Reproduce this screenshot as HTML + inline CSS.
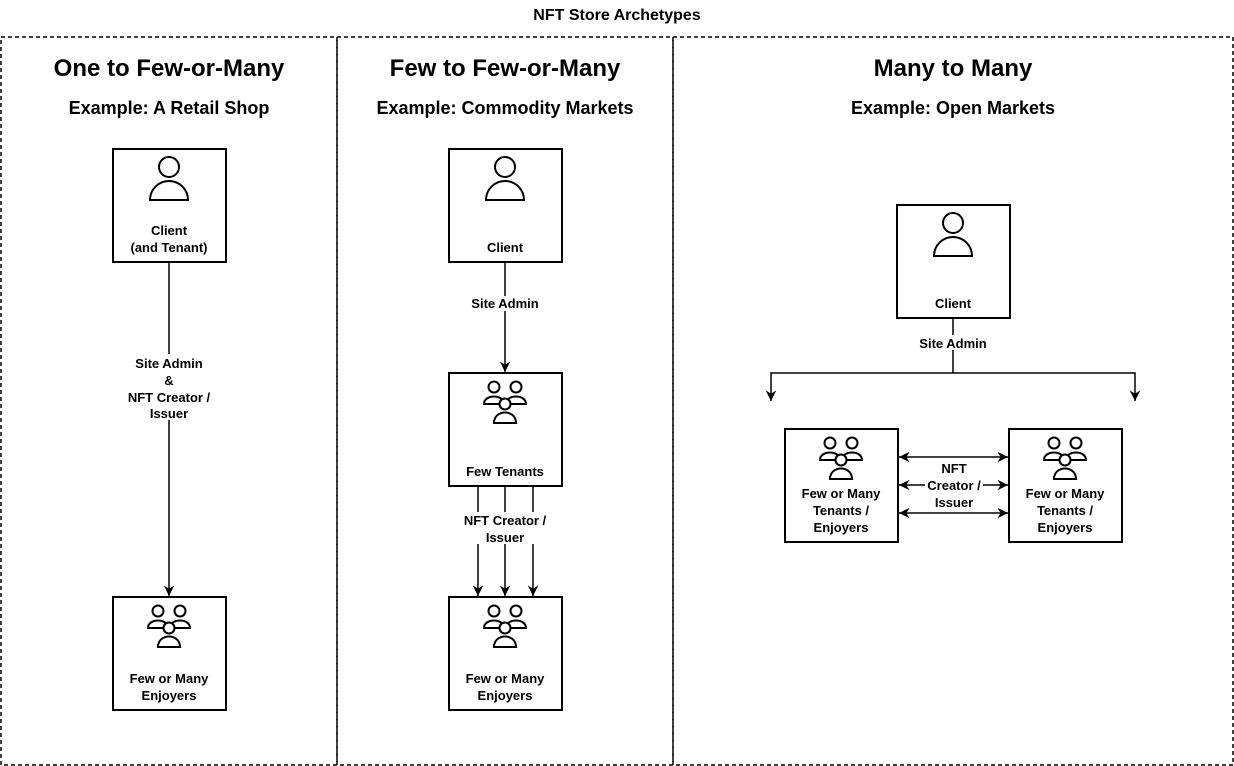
<!DOCTYPE html>
<html><head><meta charset="utf-8"><style>body{margin:0;background:#fff}svg{display:block}text{font-family:"Liberation Sans",Arial,sans-serif;font-weight:bold;fill:#000;text-anchor:middle}</style></head><body>
<svg width="1234" height="766" viewBox="0 0 1234 766" xmlns="http://www.w3.org/2000/svg">
<defs>
<marker id="a" viewBox="0 0 10 10" refX="10" refY="5" markerWidth="7" markerHeight="7" orient="auto-start-reverse"><path d="M0,0 L10,5 L0,10 L3,5 z" fill="#000"/></marker>
<g id="u" fill="#fff" stroke="#000" stroke-width="2"><circle cx="0" cy="-14" r="10"/><path d="M-19,19 A19,19 0 0 1 19,19 Z"/></g>
<g id="g" fill="#fff" stroke="#000" stroke-width="2">
<circle cx="-11" cy="-10" r="5.5"/><path d="M-21,7 C-21,-3 -1,-3 -1,7 Z"/>
<circle cx="11" cy="-10" r="5.5"/><path d="M1,7 C1,-3 21,-3 21,7 Z"/>
<circle cx="0" cy="7" r="5.5"/><path d="M-11,26 C-11,12 11,12 11,26 Z"/>
</g>
</defs>
<text x="617" y="20" font-size="16">NFT Store Archetypes</text>
<g fill="none" stroke="#000" stroke-width="1.5" stroke-dasharray="4,3">
<rect x="1" y="37" width="336" height="728"/><rect x="337" y="37" width="336" height="728"/><rect x="673" y="37" width="560" height="728"/>
</g>
<g font-size="24"><text x="169" y="76">One to Few-or-Many</text><text x="505" y="76">Few to Few-or-Many</text><text x="953" y="76">Many to Many</text></g>
<g font-size="18"><text x="169" y="114">Example: A Retail Shop</text><text x="505" y="114">Example: Commodity Markets</text><text x="953" y="114">Example: Open Markets</text></g>
<g fill="#fff" stroke="#000" stroke-width="2">
<rect x="113" y="149" width="113" height="113"/><rect x="113" y="597" width="113" height="113"/>
<rect x="449" y="149" width="113" height="113"/><rect x="449" y="373" width="113" height="113"/><rect x="449" y="597" width="113" height="113"/>
<rect x="897" y="205" width="113" height="113"/><rect x="785" y="429" width="113" height="113"/><rect x="1009" y="429" width="113" height="113"/>
</g>
<use href="#u" x="169" y="181"/><use href="#u" x="505" y="181"/><use href="#u" x="953" y="237"/>
<use href="#g" x="169" y="621"/><use href="#g" x="505" y="397"/><use href="#g" x="505" y="621"/><use href="#g" x="841" y="453"/><use href="#g" x="1065" y="453"/>
<g font-size="13">
<text x="169" y="235">Client</text><text x="169" y="252">(and Tenant)</text>
<text x="169" y="683">Few or Many</text><text x="169" y="700">Enjoyers</text>
<text x="505" y="252">Client</text><text x="505" y="476">Few Tenants</text>
<text x="505" y="683">Few or Many</text><text x="505" y="700">Enjoyers</text>
<text x="953" y="308">Client</text>
<text x="841" y="498">Few or Many</text><text x="841" y="515">Tenants /</text><text x="841" y="532">Enjoyers</text>
<text x="1065" y="498">Few or Many</text><text x="1065" y="515">Tenants /</text><text x="1065" y="532">Enjoyers</text>
</g>
<g stroke="#000" stroke-width="1.5" fill="none">
<line x1="169" y1="262" x2="169" y2="596" marker-end="url(#a)"/>
<line x1="505" y1="262" x2="505" y2="372" marker-end="url(#a)"/>
<line x1="478" y1="486" x2="478" y2="596" marker-end="url(#a)"/>
<line x1="505" y1="486" x2="505" y2="596" marker-end="url(#a)"/>
<line x1="533" y1="486" x2="533" y2="596" marker-end="url(#a)"/>
<line x1="953" y1="318" x2="953" y2="373"/>
<polyline points="771,401 771,373 1135,373 1135,401" marker-start="url(#a)" marker-end="url(#a)"/>
<line x1="899" y1="457" x2="1008" y2="457" marker-start="url(#a)" marker-end="url(#a)"/>
<line x1="899" y1="485" x2="1008" y2="485" marker-start="url(#a)" marker-end="url(#a)"/>
<line x1="899" y1="513" x2="1008" y2="513" marker-start="url(#a)" marker-end="url(#a)"/>
</g>
<g fill="#fff"><rect x="128" y="354" width="82" height="66"/><rect x="465" y="296" width="80" height="15"/><rect x="458" y="512" width="96" height="32"/><rect x="915" y="335" width="76" height="15"/><rect x="925" y="461" width="58" height="48"/></g>
<g font-size="13">
<text x="169" y="368">Site Admin</text><text x="169" y="385">&amp;</text><text x="169" y="402">NFT Creator /</text><text x="169" y="418">Issuer</text>
<text x="505" y="308">Site Admin</text>
<text x="505" y="525">NFT Creator /</text><text x="505" y="542">Issuer</text>
<text x="953" y="348">Site Admin</text>
<text x="954" y="473">NFT</text><text x="954" y="490">Creator /</text><text x="954" y="507">Issuer</text>
</g>
</svg>
</body></html>
